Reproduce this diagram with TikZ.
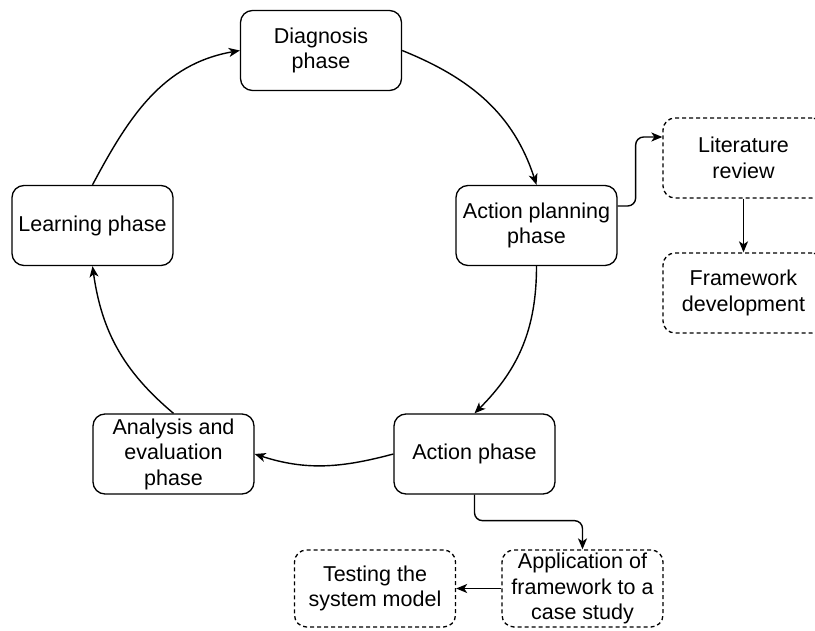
\documentclass[tikz,border=0pt]{standalone}
\usepackage{fontspec}
\setmainfont{Liberation Sans}
\usetikzlibrary{arrows.meta}
\begin{document}
\begin{tikzpicture}[x=1pt,y=-1pt,
  phase/.style={draw, line width=1.3pt, rounded corners=12pt, minimum width=161pt,
    minimum height=80pt, inner sep=0pt, align=center,
    font=\fontsize{21.5}{25.5}\selectfont},
  task/.style={phase, dash pattern=on 4pt off 3pt},
  flow/.style={line width=1.4pt, -{Stealth[length=11pt,width=9pt,inset=3pt]}}]
\useasboundingbox (0,0) rectangle (815,631);

% main cycle
\node[phase] (diag)  at (321,50.5)   {Diagnosis\\phase};
\node[phase] (plan)  at (536.5,225.5) {Action planning\\phase};
\node[phase] (learn) at (92.5,225.5)  {Learning phase};
\node[phase] (act)   at (474.5,454)   {Action phase};
\node[phase] (ana)   at (173.5,454)   {Analysis and\\evaluation\\phase};

% side tasks
\node[task] (lit)  at (743.5,158)   {Literature\\review};
\node[task] (fw)   at (743.5,293)   {Framework\\development};
\node[task, minimum height=77pt] (app)  at (582.5,588.5) {Application of\\framework to a\\case study};
\node[task, minimum height=77pt] (test) at (375,588.5)   {Testing the\\system model};

% cycle connectors
\draw[flow] (diag.east) to[out=-22, in=108] (plan.north);
\draw[flow] (plan.south) to[out=-90, in=45] (act.north);
\draw[flow] (act.west) to[out=-165, in=-18] (ana.east);
\draw[flow] (ana.north) to[out=140, in=-82] (learn.south);
\draw[flow] (learn.north) to[out=62, in=190] (diag.west);

% task connectors
\draw[flow, rounded corners=8pt] ([yshift=19.5pt]plan.east) -- ++(18,0) |- ([yshift=21pt]lit.west);
\draw[flow] (lit.south) -- (fw.north);
\draw[flow, rounded corners=8pt] (act.south) -- ++(0,26) -| (app.north);
\draw[flow] (app.west) -- (test.east);
\end{tikzpicture}
\end{document}
